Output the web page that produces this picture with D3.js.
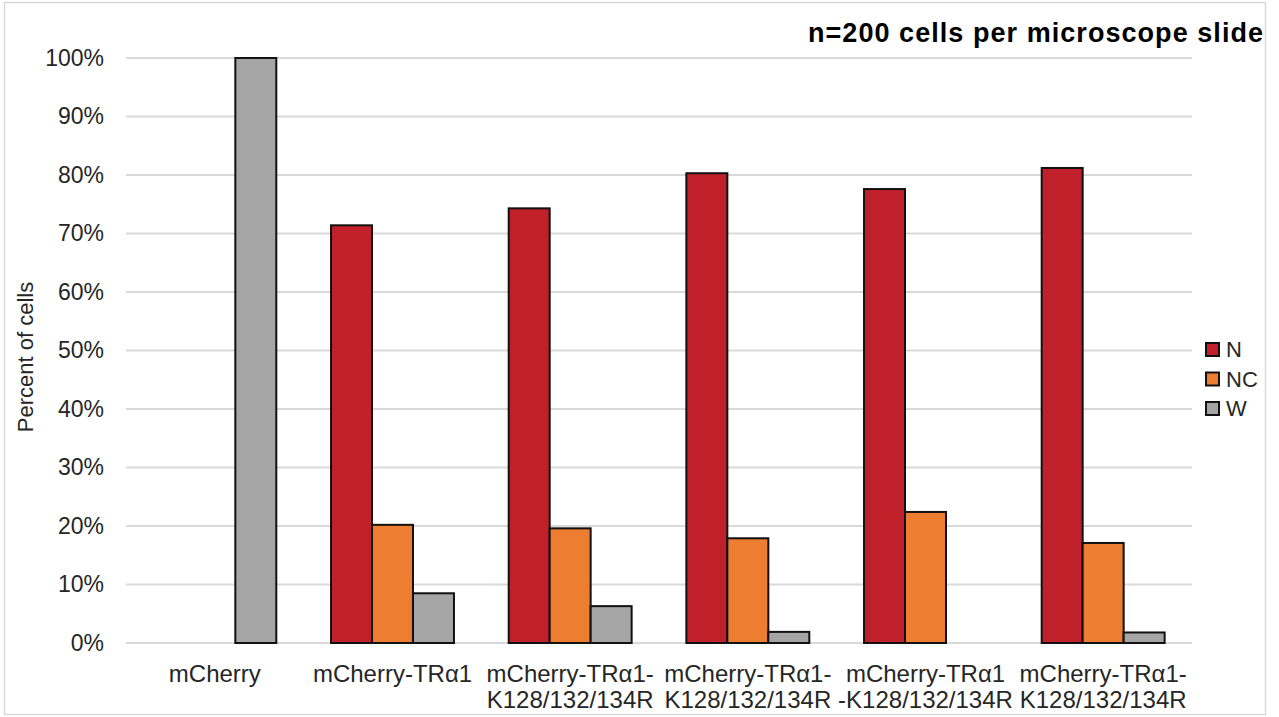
<!DOCTYPE html>
<html>
  <head>
    <meta charset="UTF-8" />
    <title>Percent of cells</title>
    <script src="https://d3js.org/d3.v7.min.js"></script>
    <style>
      body { margin: 0; background: #fff; }
      svg text { font-family: "Liberation Sans", Arial, sans-serif; fill: #262626; }
    </style>
  </head>
  <body>
    <svg width="1279" height="717"></svg>
    <script>
      // data
      var categories = [
        ["mCherry"],
        ["mCherry-TRα1"],
        ["mCherry-TRα1-", "K128/132/134R"],
        ["mCherry-TRα1-", "K128/132/134R"],
        ["mCherry-TRα1", "-K128/132/134R"],
        ["mCherry-TRα1-", "K128/132/134R"]
      ];
      var seriesNames = ["N", "NC", "W"];
      var valuesN = [0, 71.4, 74.3, 80.3, 77.6, 81.2];
      var valuesNC = [0, 20.2, 19.6, 17.9, 22.4, 17.1];
      var valuesW = [100, 8.5, 6.3, 1.9, 0, 1.8];
      var yTicks = [0, 10, 20, 30, 40, 50, 60, 70, 80, 90, 100];
      var colors = ["#C0202A", "#ED7D31", "#A5A5A5"];

      var series = [valuesN, valuesNC, valuesW];

      var svg = d3.select("svg");
      var margin = { top: 58, right: 87, bottom: 74, left: 126 };
      var width = 1279 - margin.left - margin.right;
      var height = 717 - margin.top - margin.bottom;

      // outer frame
      svg.append("rect")
        .attr("x", 4.5).attr("y", 2.5)
        .attr("width", 1261).attr("height", 712)
        .attr("fill", "none")
        .attr("stroke", "#D9D9D9")
        .attr("stroke-width", 1.5);

      var g = svg.append("g")
        .attr("transform", "translate(" + margin.left + "," + margin.top + ")");

      var x0 = d3.scaleBand()
        .domain(d3.range(categories.length))
        .range([0, width])
        .paddingInner(0)
        .paddingOuter(0);
      var groupW = x0.bandwidth() * 0.692;
      var x1 = d3.scaleBand()
        .domain(seriesNames)
        .range([0, groupW]);
      var y = d3.scaleLinear().domain([0, 100]).range([height, 0]);

      // gridlines
      g.append("g")
        .selectAll("line")
        .data(yTicks)
        .join("line")
        .attr("x1", 0).attr("x2", width)
        .attr("y1", function (d) { return y(d); })
        .attr("y2", function (d) { return y(d); })
        .attr("stroke", "#D9D9D9")
        .attr("stroke-width", 2);

      // y axis labels
      var yAxis = g.append("g")
        .call(d3.axisLeft(y).tickValues(yTicks).tickSize(0).tickPadding(22)
          .tickFormat(function (d) { return d + "%"; }));
      yAxis.select(".domain").remove();
      yAxis.selectAll("text")
        .attr("font-size", 23)
        .attr("font-family", "Liberation Sans, Arial, sans-serif")
        .style("fill", "#262626");

      // bars
      var bars = [];
      categories.forEach(function (c, i) {
        seriesNames.forEach(function (s, j) {
          bars.push({ cat: i, key: s, value: series[j][i], color: colors[j] });
        });
      });

      g.append("g")
        .selectAll("rect")
        .data(bars.filter(function (d) { return d.value > 0; }))
        .join("rect")
        .attr("x", function (d) {
          return x0(d.cat) + (x0.bandwidth() - groupW) / 2 + x1(d.key);
        })
        .attr("y", function (d) { return y(d.value); })
        .attr("width", x1.bandwidth())
        .attr("height", function (d) { return height - y(d.value); })
        .attr("fill", function (d) { return d.color; })
        .attr("stroke", "#111")
        .attr("stroke-width", 2);

      // x category labels
      var xl = g.append("g")
        .selectAll("text")
        .data(categories)
        .join("text")
        .attr("x", function (d, i) { return x0(i) + x0.bandwidth() / 2; })
        .attr("y", height + 39)
        .attr("text-anchor", "middle")
        .attr("font-size", 24);
      xl.selectAll("tspan")
        .data(function (d) { return d; })
        .join("tspan")
        .attr("x", function () { return d3.select(this.parentNode).attr("x"); })
        .attr("dy", function (d, k) { return k === 0 ? 0 : 26; })
        .text(function (d) { return d; });

      // y axis title
      svg.append("text")
        .attr("transform", "translate(33,357) rotate(-90)")
        .attr("text-anchor", "middle")
        .attr("font-size", 22)
        .text("Percent of cells");

      // title
      svg.append("text")
        .attr("x", 1263)
        .attr("y", 42)
        .attr("text-anchor", "end")
        .attr("font-size", 27)
        .attr("font-weight", "bold")
        .attr("textLength", 455)
        .attr("lengthAdjust", "spacing")
        .style("fill", "#000")
        .text("n=200 cells per microscope slide");

      // legend
      var legend = svg.append("g")
        .selectAll("g")
        .data(seriesNames)
        .join("g")
        .attr("transform", function (d, i) {
          return "translate(1206," + (343 + i * 29.5) + ")";
        });
      legend.append("rect")
        .attr("width", 13).attr("height", 13)
        .attr("fill", function (d, i) { return colors[i]; })
        .attr("stroke", "#111")
        .attr("stroke-width", 2);
      legend.append("text")
        .attr("x", 20)
        .attr("y", 6.5)
        .attr("dy", "0.36em")
        .attr("font-size", 22)
        .text(function (d) { return d; });
    </script>
  </body>
</html>
